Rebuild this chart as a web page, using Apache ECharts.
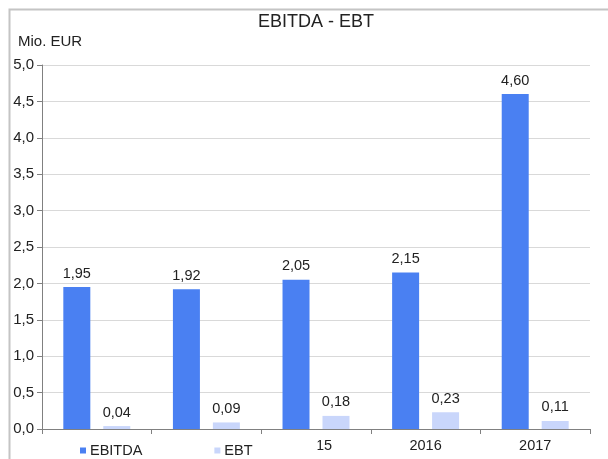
<!DOCTYPE html>
<html>
<head>
<meta charset="utf-8">
<script src="https://cdn.jsdelivr.net/npm/echarts@6/dist/echarts.min.js"></script>
<style>
html,body{margin:0;padding:0;background:#fff;}
#chart{width:608px;height:459px;}
</style>
</head>
<body>
<div id="chart"></div>
<script>
var categories = ['2013', '2014', '2015', '2016', '2017'];
var ebitda = [1.95, 1.92, 2.05, 2.15, 4.60];
var ebt = [0.04, 0.09, 0.18, 0.23, 0.11];
var yTicks = { min: 0, max: 5, interval: 0.5 };

var FONT = '"Liberation Sans", Arial, sans-serif';
function fmt2(v) { return v.toFixed(2).replace('.', ','); }

var chart = echarts.init(document.getElementById('chart'), null, { renderer: 'canvas' });
chart.setOption({
  animation: false,
  backgroundColor: '#fff',
  textStyle: { fontFamily: FONT, color: '#222' },
  graphic: [{
    type: 'rect', left: 7, top: 7, z: -10, silent: true,
    shape: { width: 700, height: 600 },
    style: { fill: 'none', stroke: '#c4c4c4', lineWidth: 2 }
  }],
  title: {
    text: 'EBITDA - EBT', left: 258, top: 13, padding: 0,
    textStyle: { fontFamily: FONT, fontSize: 18, fontWeight: 'normal', color: '#222' }
  },
  grid: { left: 42, right: 18, top: 65, bottom: 30, containLabel: false, outerBoundsMode: 'none' },
  legend: {
    data: ['EBITDA', 'EBT'],
    left: 50, top: 437,
    padding: [6, 65, 10, 30],
    backgroundColor: '#fff',
    itemWidth: 6, itemHeight: 6, itemGap: 72,
    icon: 'rect',
    textStyle: { fontFamily: FONT, fontSize: 14.5, color: '#222', padding: [0, 0, 0, -1] },
    z: 10
  },
  xAxis: {
    type: 'category', data: categories,
    axisLine: { lineStyle: { color: '#808080', width: 1 } },
    axisTick: { show: true, length: 5, lineStyle: { color: '#808080' } },
    axisLabel: { fontFamily: FONT, fontSize: 14.5, color: '#222', margin: 9 }
  },
  yAxis: {
    type: 'value', min: yTicks.min, max: yTicks.max, interval: yTicks.interval,
    name: 'Mio. EUR', nameLocation: 'end', nameGap: 23,
    nameTextStyle: { fontFamily: FONT, fontSize: 15, color: '#222', align: 'left', verticalAlign: 'middle', padding: [0, 0, 0, -24] },
    axisLine: { show: true, lineStyle: { color: '#808080', width: 1 } },
    axisTick: { show: true, length: 5, lineStyle: { color: '#808080' } },
    axisLabel: { fontFamily: FONT, fontSize: 15, color: '#222', margin: 8,
      formatter: function (v) { return v.toFixed(1).replace('.', ','); } },
    splitLine: { show: true, lineStyle: { color: '#d9d9d9', width: 1 } }
  },
  series: [{
    name: 'EBITDA', type: 'bar', data: ebitda,
    barWidth: 27, barGap: '48%',
    itemStyle: { color: '#4a80f2' },
    label: { show: true, position: 'top', distance: 6, fontFamily: FONT, fontSize: 14.5, color: '#222',
      formatter: function (p) { return fmt2(p.value); } }
  }, {
    name: 'EBT', type: 'bar', data: ebt,
    barWidth: 27,
    itemStyle: { color: '#c9d6fb' },
    label: { show: true, position: 'top', distance: 6, fontFamily: FONT, fontSize: 14.5, color: '#222',
      formatter: function (p) { return fmt2(p.value); } }
  }]
});
</script>
</body>
</html>
